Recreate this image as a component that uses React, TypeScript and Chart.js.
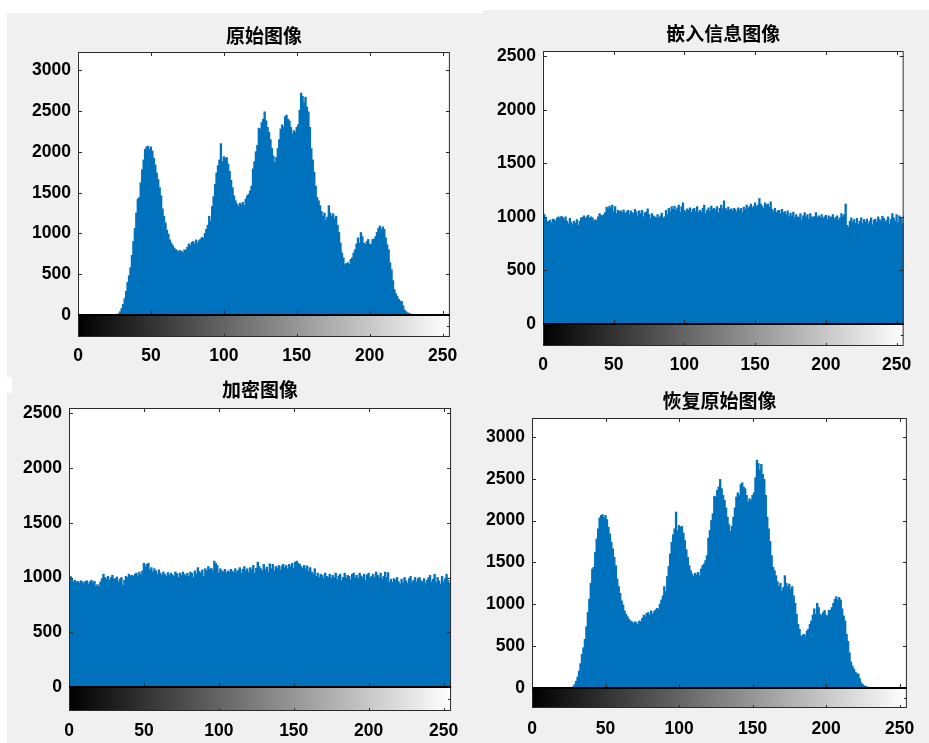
import React, { useEffect, useRef } from "react";
import { Chart, registerables } from "chart.js";

Chart.register(...registerables);

// ---------- data ----------
const GRAY_LEVELS: number[] = Array.from({ length: 256 }, (_, i) => i);

const ORIGINAL_COUNTS: number[] = [
  0, 0, 0, 0, 0, 0, 0, 0, 0, 0, 0, 0, 0, 0, 0, 0,
  0, 0, 0, 0, 0, 0, 0, 0, 0, 0, 0, 5, 15, 40, 80, 130,
  200, 290, 400, 480, 580, 730, 900, 1060, 1250, 1420, 1440, 1620, 1780, 1900, 2030, 2060,
  2070, 2030, 2060, 2010, 1920, 1840, 1740, 1660, 1560, 1460, 1300, 1210, 1130, 1040, 990, 920,
  880, 850, 820, 800, 790, 770, 790, 780, 760, 800, 790, 830, 870, 850, 890, 900,
  870, 920, 880, 910, 930, 950, 940, 1000, 1050, 1100, 1210, 1150, 1330, 1450, 1600, 1740,
  1830, 1900, 2100, 1880, 1940, 1920, 1930, 1850, 1760, 1650, 1560, 1460, 1400, 1360, 1330, 1370,
  1350, 1380, 1340, 1420, 1460, 1480, 1520, 1580, 1790, 1880, 2000, 2080, 2290, 2280, 2360, 2400,
  2490, 2380, 2300, 2240, 2150, 2040, 1950, 1870, 1930, 2040, 2150, 2280, 2330, 2300, 2430, 2450,
  2400, 2380, 2300, 2220, 2260, 2240, 2300, 2330, 2510, 2720, 2680, 2600, 2670, 2550, 2490, 2300,
  2040, 1900, 1750, 1580, 1440, 1400, 1340, 1270, 1210, 1250, 1160, 1200, 1340, 1250, 1210, 1240,
  1180, 1210, 1100, 1010, 880, 760, 700, 615, 630, 640, 620, 680, 700, 760, 800, 870,
  945, 880, 1010, 960, 880, 865, 900, 925, 870, 860, 925, 930, 960, 1010, 1060, 1090,
  1050, 1080, 1050, 945, 860, 800, 640, 555, 420, 310, 260, 225, 190, 170, 165, 110,
  60, 40, 25, 20, 10, 5, 0, 0, 0, 0, 0, 0, 0, 0, 0, 0,
  0, 0, 0, 0, 0, 0, 0, 0, 0, 0, 0, 0, 0, 0, 0, 0,
];

const EMBEDDED_COUNTS: number[] = [
  1050, 1020, 990, 960, 955, 970, 945, 980, 975, 960, 990, 1000, 985, 1005, 995, 975,
  1000, 960, 935, 985, 950, 925, 960, 940, 975, 920, 960, 990, 995, 1010, 985, 1000,
  1015, 985, 1000, 990, 960, 975, 965, 1000, 1030, 1015, 1010, 1020, 1040, 1090, 1075, 1100,
  1085, 1110, 1050, 1095, 1030, 1060, 1050, 1055, 1040, 1065, 1030, 1045, 1060, 1020, 1055, 1040,
  1030, 1070, 1050, 1010, 1055, 1030, 1060, 1000, 1040, 1045, 1075, 1020, 985, 1030, 1010, 1000,
  990, 1020, 985, 1010, 1035, 990, 1000, 1060, 1020, 1080, 1050, 1095, 1070, 1100, 1060, 1085,
  1110, 1040, 1095, 1130, 1060, 1045, 1075, 1060, 1085, 1040, 1070, 1080, 1050, 1095, 1040, 1060,
  1045, 1080, 1110, 1030, 1060, 1085, 1050, 1100, 1070, 1080, 1060, 1095, 1040, 1080, 1110, 1075,
  1150, 1080, 1060, 1090, 1060, 1075, 1055, 1080, 1070, 1045, 1085, 1060, 1080, 1040, 1090, 1070,
  1110, 1080, 1095, 1120, 1085, 1100, 1130, 1095, 1110, 1170, 1120, 1100, 1080, 1130, 1110, 1120,
  1090, 1140, 1070, 1050, 1080, 1040, 1055, 1060, 1030, 1070, 1040, 1050, 1020, 1055, 1000, 1035,
  1010, 1045, 990, 1020, 1000, 995, 1030, 975, 1010, 1040, 1000, 1020, 980, 1030, 1000, 990,
  1005, 1040, 995, 1010, 990, 1020, 985, 1000, 1015, 975, 1010, 990, 1000, 1020, 980, 995,
  1010, 970, 990, 1030, 1000, 1020, 1120, 920, 905, 960, 990, 950, 975, 940, 985, 930,
  960, 990, 940, 975, 950, 980, 935, 960, 990, 925, 970, 980, 950, 1000, 975, 960,
  1005, 985, 950, 970, 1000, 935, 980, 1030, 990, 960, 1020, 945, 1010, 990, 935, 1000,
];

const ENCRYPTED_COUNTS: number[] = [
  1020, 1010, 990, 960, 975, 955, 965, 950, 970, 960, 945, 965, 970, 940, 960, 975,
  950, 965, 920, 935, 915, 960, 990, 1030, 1000, 985, 1010, 975, 1000, 1020, 985, 990,
  1005, 960, 985, 1000, 930, 975, 1010, 1000, 1030, 1015, 1020, 1010, 1030, 1040, 1015, 1050,
  1025, 1060, 1130, 1100, 1120, 1130, 1070, 1090, 1050, 1080, 1060, 1030, 1070, 1040, 1020, 1050,
  1030, 1010, 1045, 1020, 1040, 1025, 1010, 1050, 1035, 1000, 1040, 1020, 1050, 1030, 1015, 1040,
  1010, 1050, 1040, 1000, 1060, 1030, 1090, 1055, 1040, 1070, 1010, 1080, 1060, 1100, 1075, 1085,
  1060, 1150, 1130, 1110, 1040, 1080, 1060, 1050, 1075, 1040, 1060, 1050, 1075, 1060, 1045, 1080,
  1050, 1065, 1090, 1040, 1075, 1100, 1060, 1080, 1045, 1090, 1070, 1110, 1040, 1085, 1140, 1100,
  1080, 1060, 1120, 1070, 1095, 1050, 1125, 1080, 1120, 1060, 1100, 1085, 1110, 1070, 1105, 1120,
  1090, 1110, 1080, 1120, 1100, 1130, 1085, 1140, 1150, 1130, 1120, 1100, 1085, 1110, 1080, 1105,
  1060, 1090, 1050, 1030, 1080, 1010, 1040, 1000, 1030, 1020, 995, 1040, 1010, 1000, 1030, 990,
  1020, 1000, 1040, 980, 1015, 1030, 970, 1000, 1040, 995, 1020, 1010, 980, 1030, 1040, 1000,
  1020, 990, 1040, 1015, 1000, 1030, 975, 1025, 1040, 995, 1010, 1030, 1000, 1050, 1020, 1000,
  1040, 985, 1010, 1050, 1000, 1045, 960, 985, 955, 990, 975, 1000, 960, 940, 985, 950,
  1000, 970, 945, 990, 1010, 955, 975, 1000, 960, 990, 1000, 970, 960, 990, 945, 975,
  1000, 1020, 960, 985, 1030, 955, 1000, 970, 940, 1010, 960, 990, 1030, 975, 950, 1000,
];

// lossless recovery: identical histogram to the original
const RECOVERED_COUNTS: number[] = ORIGINAL_COUNTS.slice();

const X_TICKS: number[] = [0, 50, 100, 150, 200, 250];
const Y_TICKS_3000: number[] = [0, 500, 1000, 1500, 2000, 2500, 3000];
const Y_TICKS_2500: number[] = [0, 500, 1000, 1500, 2000, 2500];

const TITLES: string[] = ["原始图像", "嵌入信息图像", "加密图像", "恢复原始图像"];

// ---------- layout ----------
type Panel = {
  title: string;
  data: number[];
  yTicks: number[];
  yMax: number;
  left: number;
  right: number;
  top: number;
  zero: number;
  bottom: number;
  titleGap: number;
  xLabelGap: number;
};

const PANELS: Panel[] = [
  { title: TITLES[0], data: ORIGINAL_COUNTS, yTicks: Y_TICKS_3000, yMax: 3225, left: 78, right: 452, top: 52, zero: 315, bottom: 337, titleGap: 16, xLabelGap: 19 },
  { title: TITLES[1], data: EMBEDDED_COUNTS, yTicks: Y_TICKS_2500, yMax: 2550, left: 543, right: 906, top: 51, zero: 324, bottom: 346, titleGap: 17, xLabelGap: 19 },
  { title: TITLES[2], data: ENCRYPTED_COUNTS, yTicks: Y_TICKS_2500, yMax: 2550, left: 69, right: 454, top: 408, zero: 687, bottom: 711, titleGap: 18, xLabelGap: 20 },
  { title: TITLES[3], data: RECOVERED_COUNTS, yTicks: Y_TICKS_3000, yMax: 3225, left: 532, right: 911, top: 418, zero: 688, bottom: 708, titleGap: 17, xLabelGap: 21 },
];

const Y_AXIS_W = 62;
const RIGHT_PAD = 14;
const X_AXIS_H = 40;
const TITLE_SIZE = 19;
const TITLE_LH = 1.2;
const TITLE_PAD_TOP = 4;
const TICK_SIZE = 17.5;
const TICK_FONT = "'Liberation Sans', Arial, Helvetica, sans-serif";
const TITLE_FONT = "'Noto Sans CJK SC', 'Noto Sans CJK JP', sans-serif";
const BAR_COLOR = "#0072BD";
const FRAME_COLOR = "#2b2b2b";

const imhistPlugin = {
  id: "imhist",
  beforeDatasetsDraw(chart: any) {
    const { ctx, chartArea: a, scales } = chart;
    const y0 = scales.y.getPixelForValue(0);
    ctx.save();
    ctx.fillStyle = "#ffffff";
    ctx.fillRect(a.left, a.top, a.right - a.left, y0 - a.top);
    const g = ctx.createLinearGradient(scales.x.getPixelForValue(0), 0, scales.x.getPixelForValue(255), 0);
    g.addColorStop(0, "#000000");
    g.addColorStop(1, "#ffffff");
    ctx.fillStyle = g;
    ctx.fillRect(a.left, y0, a.right - a.left, a.bottom - y0);
    ctx.restore();
  },
  afterDatasetsDraw(chart: any) {
    const { ctx, chartArea: a, scales } = chart;
    const y0 = scales.y.getPixelForValue(0);
    const yTicks: number[] = chart.options.plugins.imhist.yTicks;
    ctx.save();
    ctx.strokeStyle = FRAME_COLOR;
    ctx.lineWidth = 1;
    ctx.strokeRect(a.left + 0.5, a.top + 0.5, a.right - a.left - 1, a.bottom - a.top - 1);
    ctx.beginPath();
    for (const t of X_TICKS) {
      const px = Math.round(scales.x.getPixelForValue(t)) + 0.5;
      ctx.moveTo(px, a.top);
      ctx.lineTo(px, a.top + 4);
      ctx.moveTo(px, y0);
      ctx.lineTo(px, y0 - 4);
      ctx.moveTo(px, a.bottom);
      ctx.lineTo(px, a.bottom - 3);
    }
    for (const t of yTicks) {
      const py = Math.round(scales.y.getPixelForValue(t)) + 0.5;
      ctx.moveTo(a.left, py);
      ctx.lineTo(a.left + 4, py);
      ctx.moveTo(a.right, py);
      ctx.lineTo(a.right - 4, py);
    }
    const mid = Math.round((y0 + a.bottom) / 2) + 0.5;
    ctx.moveTo(a.right, mid);
    ctx.lineTo(a.right - 3, mid);
    ctx.stroke();
    ctx.strokeStyle = "#000000";
    ctx.lineWidth = 2;
    ctx.beginPath();
    ctx.moveTo(a.left, Math.round(y0));
    ctx.lineTo(a.right, Math.round(y0));
    ctx.stroke();
    ctx.restore();
  },
};

function HistPanel({ p }: { p: Panel }) {
  const ref = useRef<HTMLCanvasElement | null>(null);
  const titleBottomPad = p.titleGap - (TITLE_SIZE * TITLE_LH) / 2;
  const titleBlock = TITLE_PAD_TOP + TITLE_SIZE * TITLE_LH + titleBottomPad;
  const canvasLeft = p.left - Y_AXIS_W;
  const canvasTop = Math.round(p.top - titleBlock);
  const width = p.right - p.left + Y_AXIS_W + RIGHT_PAD;
  const height = p.bottom - canvasTop + X_AXIS_H;
  const padTop = p.top - canvasTop - titleBlock;

  useEffect(() => {
    if (!ref.current) return;
    const yMin = (-p.yMax * (p.bottom - p.zero)) / (p.zero - p.top);
    const chart = new Chart(ref.current, {
      type: "bar",
      data: {
        labels: GRAY_LEVELS,
        datasets: [
          {
            data: p.data,
            backgroundColor: BAR_COLOR,
            borderWidth: 0,
            barPercentage: 1,
            categoryPercentage: 1,
            inflateAmount: 0.45,
          },
        ],
      },
      options: {
        responsive: false,
        animation: false,
        devicePixelRatio: 1,
        events: [],
        layout: { padding: { left: 0, right: RIGHT_PAD, top: padTop, bottom: 0 } },
        plugins: {
          legend: { display: false },
          tooltip: { enabled: false },
          title: {
            display: true,
            text: p.title,
            fullSize: false,
            color: "#000000",
            font: { family: TITLE_FONT, size: TITLE_SIZE, weight: "bold", lineHeight: TITLE_LH },
            padding: { top: TITLE_PAD_TOP, bottom: titleBottomPad },
          },
          imhist: { yTicks: p.yTicks },
        } as any,
        scales: {
          x: {
            type: "linear",
            min: 0,
            max: 255,
            offset: false,
            grid: { display: false, drawTicks: false },
            border: { display: false },
            afterBuildTicks: (s: any) => {
              s.ticks = X_TICKS.map((v) => ({ value: v }));
            },
            afterFit: (s: any) => {
              s.height = X_AXIS_H;
            },
            ticks: {
              color: "#000000",
              padding: p.xLabelGap - TICK_SIZE * 0.6,
              maxRotation: 0,
              autoSkip: false,
              callback: (v: any) => String(v),
              font: { family: TICK_FONT, size: TICK_SIZE, weight: "bold" },
            },
          },
          y: {
            type: "linear",
            min: yMin,
            max: p.yMax,
            grid: { display: false, drawTicks: false },
            border: { display: false },
            afterBuildTicks: (s: any) => {
              s.ticks = p.yTicks.map((v) => ({ value: v }));
            },
            afterFit: (s: any) => {
              s.width = Y_AXIS_W;
            },
            ticks: {
              color: "#000000",
              padding: 7,
              autoSkip: false,
              callback: (v: any) => String(v),
              font: { family: TICK_FONT, size: TICK_SIZE, weight: "bold" },
            },
          },
        },
      } as any,
      plugins: [imhistPlugin],
    });
    return () => chart.destroy();
  }, []);

  return (
    <canvas
      ref={ref}
      width={width}
      height={height}
      style={{ position: "absolute", left: canvasLeft, top: canvasTop, width, height }}
    />
  );
}

export default function App() {
  return (
    <div
      style={{
        position: "fixed",
        left: 0,
        top: 0,
        width: 929,
        height: 743,
        background: "#f0f0f0",
        overflow: "hidden",
      }}
    >
      <div style={{ position: "absolute", left: 0, top: 0, width: 483, height: 13, background: "#fff" }} />
      <div style={{ position: "absolute", left: 483, top: 0, width: 446, height: 10, background: "#fff" }} />
      <div style={{ position: "absolute", left: 0, top: 0, width: 7, height: 743, background: "#fff" }} />
      <div style={{ position: "absolute", left: 0, top: 377, width: 12, height: 16, background: "#fff" }} />
      {PANELS.map((p, i) => (
        <HistPanel key={i} p={p} />
      ))}
    </div>
  );
}
